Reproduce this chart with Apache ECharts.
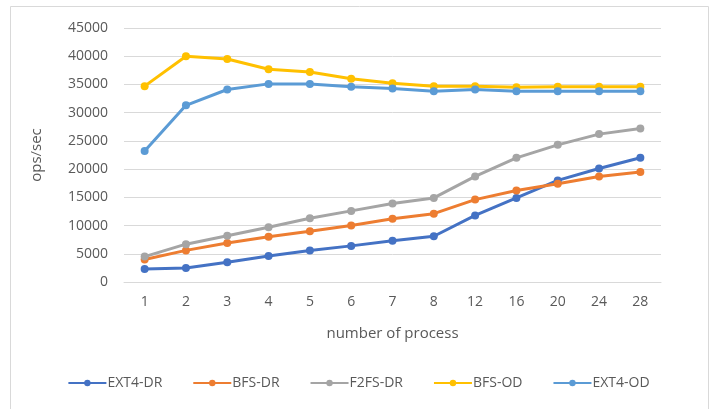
<!DOCTYPE html>
<html>
<head>
<meta charset="utf-8">
<script src="https://cdn.jsdelivr.net/npm/echarts@6/dist/echarts.min.js"></script>
<style>html,body{margin:0;padding:0;background:#fff}#c{width:717px;height:409px}</style>
</head>
<body>
<div id="c"></div>
<script>
const categories = ['1','2','3','4','5','6','7','8','12','16','20','24','28'];
const ext4DR = [2300,2500,3500,4600,5600,6400,7300,8100,11800,14900,18000,20100,22000];
const bfsDR  = [4000,5600,6900,8000,9000,10000,11200,12100,14600,16200,17400,18700,19500];
const f2fsDR = [4500,6700,8200,9700,11300,12600,13900,14900,18700,22000,24300,26200,27200];
const bfsOD  = [34700,40000,39500,37700,37200,36000,35200,34700,34700,34500,34600,34600,34600];
const ext4OD = [23200,31300,34100,35100,35100,34600,34300,33800,34100,33800,33800,33800,33800];
const seriesNames = ['EXT4-DR','BFS-DR','F2FS-DR','BFS-OD','EXT4-OD'];
const seriesData = [ext4DR, bfsDR, f2fsDR, bfsOD, ext4OD];
const colors = ['#4472C4','#ED7D31','#A5A5A5','#FFC000','#5B9BD5'];
const font = '"Open Sans", sans-serif';

const chart = echarts.init(document.getElementById('c'));
chart.setOption({
  animation: false,
  color: colors,
  graphic: [{type:'rect', shape:{x:10.5,y:6.5,width:698,height:420}, style:{fill:'none', stroke:'#d9d9d9', lineWidth:1}, silent:true}],
  grid: {left:124, right:56, top:28, bottom:127},
  legend: {
    bottom: 14, left: 'center', itemWidth: 38, itemHeight: 8, itemGap: 30,
    textStyle: {color:'#595959', fontSize:14, fontFamily: font, padding:[0,0,0,-4]},
    data: seriesNames
  },
  xAxis: {
    type: 'category', data: categories, boundaryGap: true,
    name: 'number of process', nameLocation: 'middle', nameGap: 44,
    nameTextStyle: {color:'#595959', fontSize:15, fontFamily: font},
    axisLine: {show:true, lineStyle:{color:'#d9d9d9'}},
    axisTick: {show:false},
    axisLabel: {color:'#595959', fontSize:14, fontFamily: font, margin:13}
  },
  yAxis: {
    type: 'value', min: 0, max: 45000, interval: 5000,
    name: 'ops/sec', nameLocation: 'middle', nameGap: 80, nameRotate: 90,
    nameTextStyle: {color:'#595959', fontSize:15, fontFamily: font},
    axisLine: {show:false}, axisTick: {show:false},
    axisLabel: {color:'#595959', fontSize:14, fontFamily: font, margin:16, formatter: v => String(v)},
    splitLine: {lineStyle:{color:'#d9d9d9'}}
  },
  series: seriesNames.map((n,i)=>({
    name: n, type: 'line', data: seriesData[i],
    symbol: 'circle', symbolSize: 8,
    lineStyle: {width: 3, color: colors[i]},
    itemStyle: {color: colors[i]}
  }))
});
</script>
</body>
</html>
